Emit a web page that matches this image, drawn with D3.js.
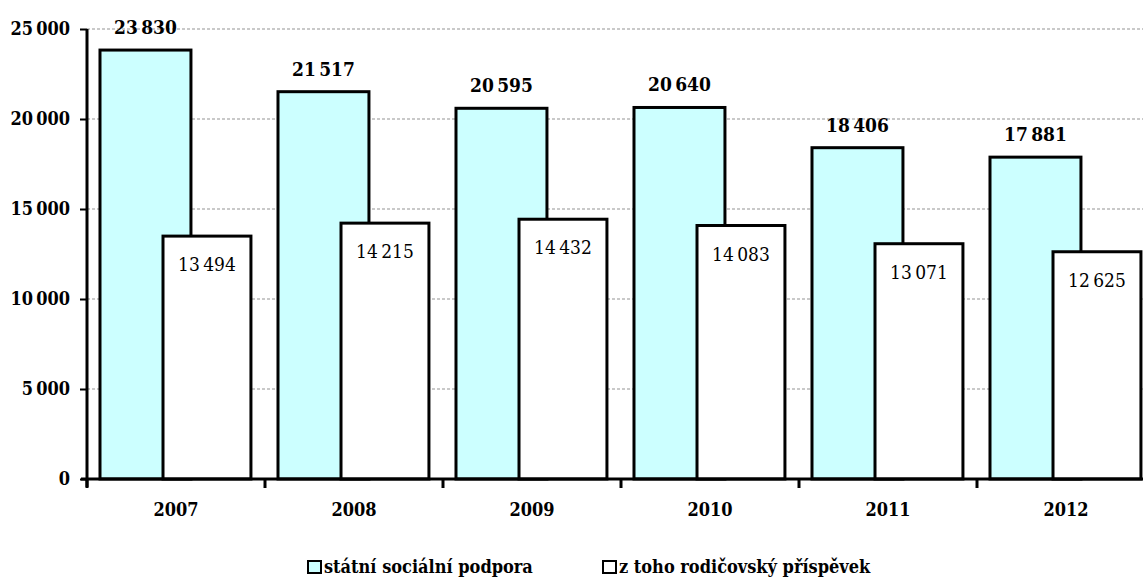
<!DOCTYPE html>
<html>
<head>
<meta charset="utf-8">
<script src="https://cdn.jsdelivr.net/npm/d3@7"></script>
<style>
    body { margin: 0; background: #fff; }
    svg text { font-stretch: condensed; }
</style>
</head>
<body>
<svg id="chart" width="1143" height="577"></svg>
<script>
// data
let years = ["2007", "2008", "2009", "2010", "2011", "2012"];
let statniPodpora = [23830, 21517, 20595, 20640, 18406, 17881];
let rodicovsky = [13494, 14215, 14432, 14083, 13071, 12625];
let yTicks = [0, 5000, 10000, 15000, 20000, 25000];
let seriesNames = ["státní sociální podpora", "z toho rodičovský příspěvek"];

let svg = d3.select("#chart");
let serif = "'DejaVu Serif', serif";

let x_left = 87;
let band = 178;
let y_bottom = 479;
let y_top = 29;

let xScale = d3.scaleBand()
    .domain(years)
    .range([x_left, x_left + band * years.length])
    .padding(0);

let yScale = d3.scaleLinear()
    .domain([0, 25000])
    .range([y_bottom, y_top]);

let fmt = v => d3.format(",")(v).replace(/,/g, "\u2009");

// gridlines
svg.append("g").selectAll("line").data(yTicks.slice(1)).enter().append("line")
    .attr("x1", x_left).attr("x2", 1143)
    .attr("y1", d => yScale(d)).attr("y2", d => yScale(d))
    .attr("stroke", "#b8b8b8")
    .attr("stroke-width", 1.3)
    .attr("stroke-dasharray", "3,2");

let bw = xScale.bandwidth();

// cyan bars
svg.append("g").selectAll("rect").data(statniPodpora).enter().append("rect")
    .attr("x", (d, i) => xScale(years[i]) + bw * 0.073)
    .attr("y", d => yScale(d))
    .attr("width", bw * 0.511)
    .attr("height", d => y_bottom - yScale(d))
    .attr("fill", "#ccffff")
    .attr("stroke", "#000")
    .attr("stroke-width", 3);

// white bars
svg.append("g").selectAll("rect").data(rodicovsky).enter().append("rect")
    .attr("x", (d, i) => xScale(years[i]) + bw * 0.427)
    .attr("y", d => yScale(d))
    .attr("width", bw * 0.494)
    .attr("height", d => y_bottom - yScale(d))
    .attr("fill", "#fff")
    .attr("stroke", "#000")
    .attr("stroke-width", 3);

// value labels
svg.append("g").selectAll("text").data(statniPodpora).enter().append("text")
    .attr("x", (d, i) => xScale(years[i]) + bw * (0.073 + 0.511 / 2))
    .attr("y", d => yScale(d) - 16)
    .attr("text-anchor", "middle")
    .attr("font-family", serif)
    .attr("font-size", 19)
    .attr("font-weight", "bold")
    .text(fmt);

svg.append("g").selectAll("text").data(rodicovsky).enter().append("text")
    .attr("x", (d, i) => xScale(years[i]) + bw * (0.427 + 0.494 / 2))
    .attr("y", d => yScale(d) + 35)
    .attr("text-anchor", "middle")
    .attr("font-family", serif)
    .attr("font-size", 19)
    .text(fmt);

// axes
let yAxis = d3.axisLeft(yScale).tickValues(yTicks).tickSize(7).tickPadding(10).tickFormat(fmt);
let gy = svg.append("g")
    .attr("transform", "translate(" + x_left + ",0)")
    .call(yAxis);
gy.select(".domain").attr("d", "M0," + y_top + "V" + (y_bottom + 8)).attr("stroke-width", 3);
gy.selectAll(".tick line").attr("stroke-width", 2);
gy.selectAll("text").attr("font-size", 18).attr("font-weight", "bold")
    .attr("font-family", serif).attr("fill", "#000");

let xAxis = d3.axisBottom(xScale).tickSize(0).tickPadding(24);
let gx = svg.append("g")
    .attr("transform", "translate(0," + y_bottom + ")")
    .call(xAxis);
gx.select(".domain").attr("d", "M" + (x_left - 6) + ",0H1143").attr("stroke-width", 3);
gx.selectAll("text").attr("font-size", 18).attr("font-weight", "bold")
    .attr("font-family", serif).attr("fill", "#000");

// category boundary ticks
svg.append("g").selectAll("line").data(years).enter().append("line")
    .attr("x1", d => xScale(d)).attr("x2", d => xScale(d))
    .attr("y1", y_bottom).attr("y2", y_bottom + 9)
    .attr("stroke", "#000").attr("stroke-width", 3);

// legend
let legendX = [307, 602];
let legendFill = ["#ccffff", "#fff"];
let lg = svg.append("g").selectAll("g").data(seriesNames).enter().append("g")
    .attr("transform", (d, i) => "translate(" + legendX[i] + ",560)");
lg.append("rect")
    .attr("x", 1).attr("y", 1).attr("width", 13).attr("height", 12)
    .attr("fill", (d, i) => legendFill[i])
    .attr("stroke", "#000").attr("stroke-width", 2);
lg.append("text")
    .attr("x", 17).attr("y", 13)
    .attr("font-family", serif)
    .attr("font-size", 18)
    .attr("font-weight", "bold")
    .text(d => d);
</script>
</body>
</html>
